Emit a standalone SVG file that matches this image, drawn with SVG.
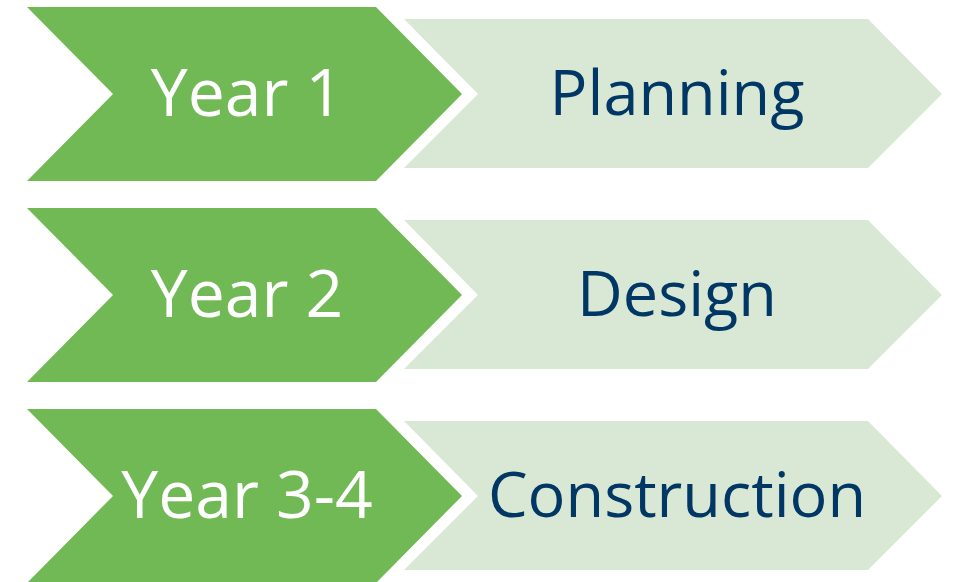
<svg xmlns="http://www.w3.org/2000/svg" width="955" height="582" viewBox="0 0 955 582">
<style>
.g{fill:#70b955}
.l{fill:#d9e8d5}
.t{font-family:"Open Sans","Noto Sans",sans-serif;text-anchor:middle}
.w{fill:#ffffff;font-size:66px}
.n{fill:#003764;font-size:63px}
</style>
<defs>
<polygon id="gc" points="27,7 376,7 462,94 376,181 27,181 113,94"/>
<polygon id="lc" points="404,19 868,19 942,94 868,168 404,168 478,94"/>
</defs>
<g id="row1">
<use href="#lc" class="l"/>
<use href="#gc" class="g"/>
<text class="t w" x="247" y="116">Year 1</text>
<text class="t n" x="677" y="115">Planning</text>
</g>
<g id="row2" transform="translate(0,201)">
<use href="#lc" class="l"/>
<use href="#gc" class="g"/>
<text class="t w" x="247" y="116">Year 2</text>
<text class="t n" x="677" y="115">Design</text>
</g>
<g id="row3" transform="translate(0,402)">
<use href="#lc" class="l"/>
<use href="#gc" class="g"/>
<text class="t w" x="247" y="116">Year 3-4</text>
<text class="t n" x="677" y="115">Construction</text>
</g>
</svg>
